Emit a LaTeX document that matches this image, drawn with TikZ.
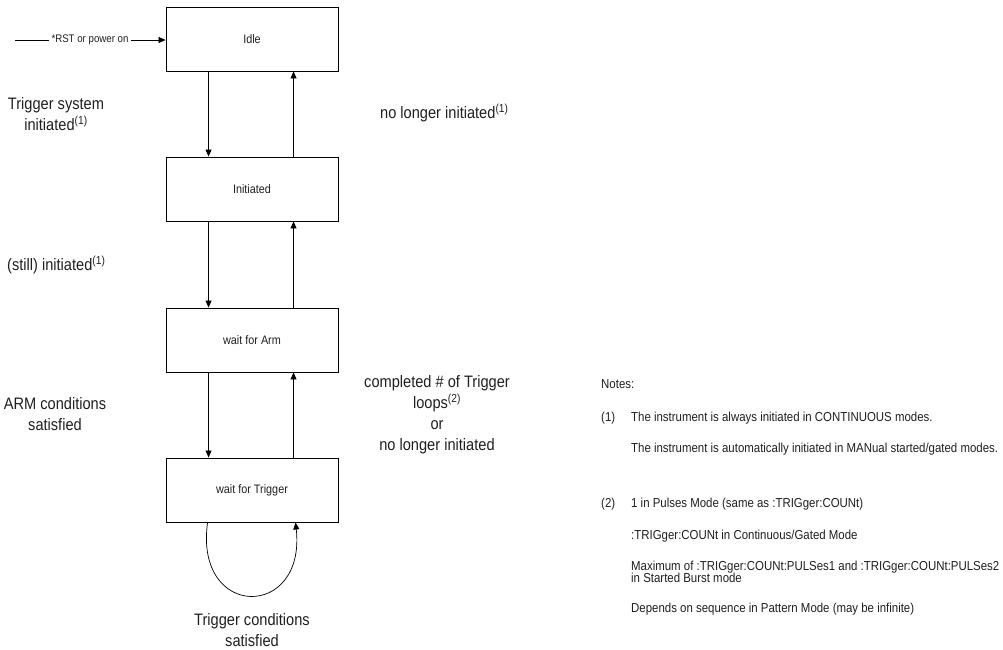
\documentclass[tikz,border=0pt]{standalone}
\usepackage{fontspec}
\setmainfont[FakeStretch=0.88]{Liberation Sans}
\usetikzlibrary{arrows.meta}
\begin{document}
\begin{tikzpicture}[x=1pt,y=-1pt,
  statebox/.style={draw, line width=0.9pt, minimum width=172pt, minimum height=64pt, inner sep=0pt, font=\fontsize{12.3}{14}\selectfont},
  conn/.style={line width=0.7pt, -{Triangle[length=7pt,width=6pt]}},
  biglabel/.style={font=\fontsize{16.6}{21}\selectfont, align=center, inner sep=0pt},
  notetext/.style={font=\fontsize{13}{12.5}\selectfont, anchor=west, inner sep=0pt, align=left},
  every node/.style={text=black!88}
]
\useasboundingbox (0,0) rectangle (1003,649);
% states
\node[statebox] (idle) at (252,39) {Idle};
\node[statebox] (init) at (252,189) {Initiated};
\node[statebox] (arm) at (252,340) {wait for Arm};
\node[statebox] (trig) at (252,490) {wait for Trigger};
% reset arrow
\coordinate (rststart) at (15,40);
\node[font=\fontsize{11}{12}\selectfont, inner sep=2pt] (rst) at (90,40) {*RST or power on};
\draw[line width=0.7pt] (rststart) -- (rst.west);
\draw[conn] (rst.east) -- (idle.west |- rst.east);
% transitions
\draw[conn] ([xshift=43pt]idle.south west) -- ([xshift=43pt]init.north west);
\draw[conn] ([xshift=128pt]init.north west) -- ([xshift=128pt]idle.south west);
\draw[conn] ([xshift=43pt]init.south west) -- ([xshift=43pt]arm.north west);
\draw[conn] ([xshift=128pt]arm.north west) -- ([xshift=128pt]init.south west);
\draw[conn] ([xshift=43pt]arm.south west) -- ([xshift=43pt]trig.north west);
\draw[conn] ([xshift=128pt]trig.north west) -- ([xshift=128pt]arm.south west);
\draw[conn] ([xshift=42pt]trig.south west) .. controls (194,620) and (306,620) .. ([xshift=130pt]trig.south west);
% labels
\node[biglabel] (l1) at (56,114) {Trigger system\\initiated\textsuperscript{(1)}};
\node[biglabel, anchor=west] (l2) at (380,113) {no longer initiated\textsuperscript{(1)}};
\node[biglabel, anchor=west] (l3) at (7,265) {(still) initiated\textsuperscript{(1)}};
\node[biglabel] (l4) at (55,414) {ARM conditions\\satisfied};
\node[biglabel] (l5) at (437,415) {completed \# of Trigger\\loops\textsuperscript{(2)}\\or\\no longer initiated};
\node[biglabel] (l6) at (252,630) {Trigger conditions\\satisfied};
% notes
\node[notetext] (n0) at (601,384) {Notes:};
\node[notetext] (n1) at (601,418) {(1)};
\node[notetext] (n1a) at (631,418) {The instrument is always initiated in CONTINUOUS modes.};
\node[notetext] (n1b) at (631,449) {The instrument is automatically initiated in MANual started/gated modes.};
\node[notetext] (n2) at (601,504) {(2)};
\node[notetext] (n2a) at (631,504) {1 in Pulses Mode (same as :TRIGger:COUNt)};
\node[notetext] (n2b) at (631,536) {:TRIGger:COUNt in Continuous/Gated Mode};
\node[notetext] (n2c) at (631,572) {Maximum of :TRIGger:COUNt:PULSes1 and :TRIGger:COUNt:PULSes2\\in Started Burst mode};
\node[notetext] (n2d) at (631,609) {Depends on sequence in Pattern Mode (may be infinite)};
\end{tikzpicture}
\end{document}
